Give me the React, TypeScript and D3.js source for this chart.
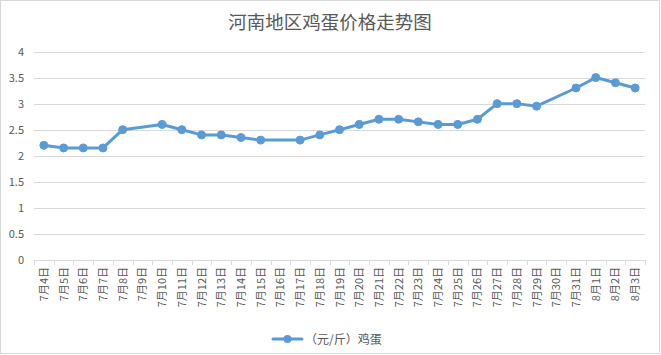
import React from "react";
import * as d3 from "d3";

const categories: string[] = [
  "7月4日","7月5日","7月6日","7月7日","7月8日","7月9日","7月10日","7月11日","7月12日","7月13日",
  "7月14日","7月15日","7月16日","7月17日","7月18日","7月19日","7月20日","7月21日","7月22日","7月23日",
  "7月24日","7月25日","7月26日","7月27日","7月28日","7月29日","7月30日","7月31日","8月1日","8月2日","8月3日",
];
const prices: (number | null)[] = [
  2.2, 2.15, 2.15, 2.15, 2.5, null, 2.6, 2.5, 2.4, 2.4,
  2.35, 2.3, null, 2.3, 2.4, 2.5, 2.6, 2.7, 2.7, 2.65,
  2.6, 2.6, 2.7, 3.0, 3.0, 2.95, null, 3.3, 3.5, 3.4, 3.3,
];
const yTicks: number[] = [0, 0.5, 1, 1.5, 2, 2.5, 3, 3.5, 4];
const title = "河南地区鸡蛋价格走势图";
const seriesName = "（元/斤）鸡蛋";

const W = 661, H = 355;
const left = 34, right = 645, top = 51.5, bottom = 260;
const color = "#5b9bd5";
const textColor = "#595959";
const font = "'Noto Sans CJK SC', 'Microsoft YaHei', sans-serif";

export default function App() {
  const x = d3.scaleBand<string>().domain(categories).range([left, right]);
  const y = d3.scaleLinear().domain([0, 4]).range([bottom, top]);
  const pts = categories
    .map((c, i) => ({ c, v: prices[i] }))
    .filter((d) => d.v !== null) as { c: string; v: number }[];
  const cx = (c: string) => (x(c) as number) + x.bandwidth() / 2;
  const line = d3.line<{ c: string; v: number }>().x((d) => cx(d.c)).y((d) => y(d.v));
  const boundaries = categories.map((c) => x(c) as number).concat([right]);

  return (
    <svg width={W} height={H} style={{ position: "absolute", left: 0, top: 0, fontFamily: font }}>
      <rect x={0} y={0} width={W} height={H} fill="#fff" />
      <rect x={0.5} y={0.5} width={W - 2} height={H - 2} fill="none" stroke="#d9d9d9" />
      <text x={330} y={29} textAnchor="middle" fontSize={18.5} fill={textColor}>{title}</text>
      {yTicks.map((t) => (
        <g key={t}>
          <line x1={left} x2={right} y1={Math.round(y(t)) + 0.5} y2={Math.round(y(t)) + 0.5} stroke="#d9d9d9" />
          <text x={24} y={y(t) + 4} textAnchor="end" fontSize={11} fill={textColor}>{t}</text>
        </g>
      ))}
      {boundaries.map((b, i) => (
        <line key={i} x1={Math.round(b) + 0.5} x2={Math.round(b) + 0.5} y1={bottom} y2={bottom + 5} stroke="#d9d9d9" />
      ))}
      {categories.map((c) => (
        <text key={c} transform={`translate(${cx(c) + 4},${267}) rotate(-90)`} textAnchor="end" fontSize={11} fill={textColor}>{c}</text>
      ))}
      <path d={line(pts) || ""} fill="none" stroke={color} strokeWidth={3} strokeLinejoin="round" strokeLinecap="round" />
      {pts.map((d) => (
        <circle key={d.c} cx={cx(d.c)} cy={y(d.v)} r={4} fill={color} stroke={color} />
      ))}
      <line x1={273} x2={302} y1={339} y2={339} stroke={color} strokeWidth={3} strokeLinecap="round" />
      <circle cx={287.5} cy={339} r={4} fill={color} />
      <text x={305} y={343.5} fontSize={12} fill={textColor}>{seriesName}</text>
    </svg>
  );
}
